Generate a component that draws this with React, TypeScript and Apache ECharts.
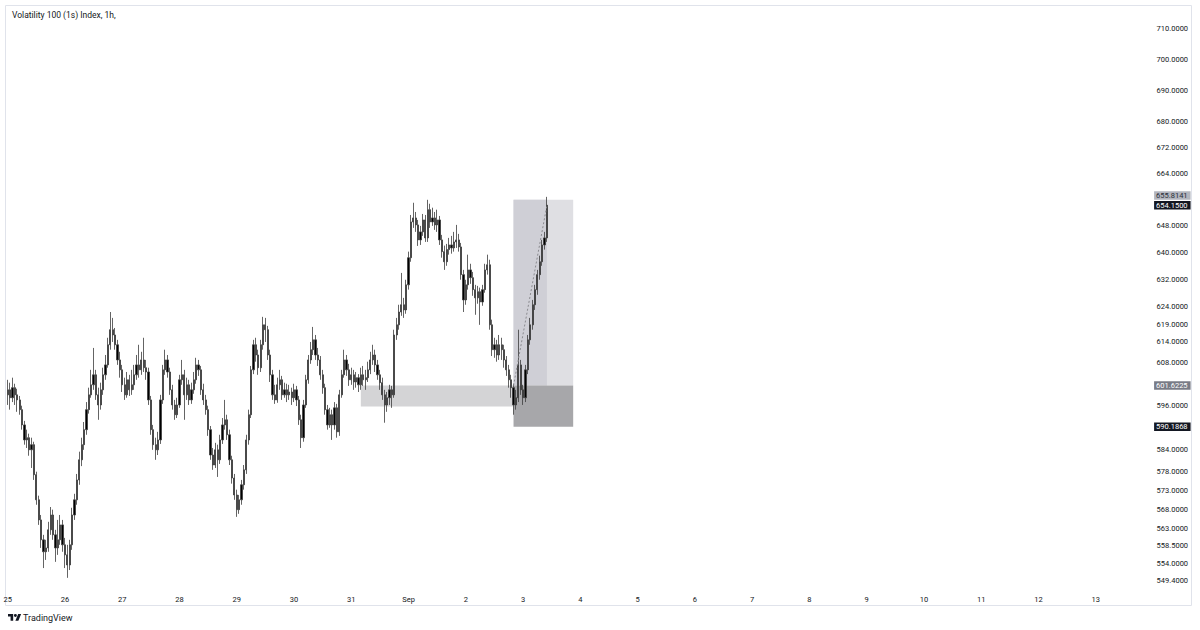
import React, { useEffect, useRef } from "react";
import * as echarts from "echarts";

// ---- axis categories (hourly candles) ----
const DAY_LABELS = ["25", "26", "27", "28", "29", "30", "31", "Sep", "2", "3", "4", "5", "6", "7", "8", "9", "10", "11", "12", "13"];
const HOURS_PER_DAY = 24;

// ---- OHLC values (1h) ----
const OPEN = [
  599.0, 600.4, 598.2, 601.0, 599.0, 597.6, 594.9, 590.7, 586.6, 587.2,
  583.9, 585.3, 577.2, 570.5, 565.2, 560.0, 556.9, 557.9, 562.6, 566.5,
  561.3, 557.9, 560.0, 563.9, 558.7, 556.1, 553.5, 558.7, 566.5, 570.5,
  575.8, 581.2, 585.3, 589.4, 594.9, 599.0, 601.8, 604.6, 599.0, 596.2,
  600.4, 604.6, 607.4, 613.1, 617.4, 615.9, 613.1, 608.8, 606.0, 601.8,
  599.0, 603.2, 600.4, 601.8, 604.6, 607.4, 606.0, 608.8, 606.6, 605.4,
  597.6, 589.4, 585.3, 583.9, 586.6, 597.6, 606.0, 608.8, 605.4, 600.4,
  596.2, 593.5, 596.2, 603.2, 604.6, 599.0, 601.8, 597.6, 600.4, 603.2,
  607.4, 606.0, 600.4, 597.6, 594.9, 589.4, 582.5, 579.8, 583.9, 581.2,
  586.6, 590.7, 592.1, 588.0, 581.2, 576.3, 571.8, 567.9, 570.5, 574.5,
  578.5, 586.6, 593.5, 606.0, 613.1, 610.2, 606.6, 613.1, 618.8, 617.4,
  610.2, 604.6, 599.0, 597.6, 601.8, 603.2, 599.0, 600.4, 599.0, 599.8,
  598.2, 600.4, 597.6, 592.1, 587.2, 596.2, 603.2, 608.8, 611.7, 614.5,
  610.2, 608.8, 604.6, 601.0, 594.9, 590.7, 593.5, 590.7, 595.4, 588.8,
  599.0, 604.6, 608.8, 606.0, 603.2, 604.6, 602.6, 603.8, 601.8, 604.6,
  603.2, 603.8, 606.0, 608.8, 610.2, 607.4, 604.6, 602.4, 599.0, 596.2,
  598.2, 600.4, 599.0, 615.9, 618.8, 622.5, 624.6, 623.1, 630.4, 638.4,
  649.1, 650.3, 648.2, 643.7, 646.1, 649.7, 644.3, 652.8, 649.1, 650.3,
  648.2, 649.7, 643.7, 640.2, 637.2, 640.8, 642.2, 641.3, 643.1, 643.7,
  641.6, 633.4, 626.0, 630.4, 634.8, 632.5, 629.0, 626.6, 628.4, 625.4,
  629.0, 634.8, 636.3, 618.8, 611.7, 613.1, 610.2, 613.1, 611.7, 608.8,
  606.0, 603.2, 601.0, 596.2, 598.2, 607.4, 600.4, 598.2, 606.0, 614.5,
  618.8, 624.6, 629.0, 633.4, 637.2, 642.2, 644.3,
];
const CLOSE = [
  600.4, 598.2, 601.0, 599.0, 597.6, 594.9, 590.7, 586.6, 587.2, 583.9,
  585.3, 577.2, 570.5, 565.2, 560.0, 556.9, 557.9, 562.6, 566.5, 561.3,
  557.9, 560.0, 563.9, 558.7, 556.1, 553.5, 558.7, 566.5, 570.5, 575.8,
  581.2, 585.3, 589.4, 594.9, 599.0, 601.8, 604.6, 599.0, 596.2, 600.4,
  604.6, 607.4, 613.1, 617.4, 615.9, 613.1, 608.8, 606.0, 601.8, 599.0,
  603.2, 600.4, 601.8, 604.6, 607.4, 606.0, 608.8, 606.6, 605.4, 597.6,
  589.4, 585.3, 583.9, 586.6, 597.6, 606.0, 608.8, 605.4, 600.4, 596.2,
  593.5, 596.2, 603.2, 604.6, 599.0, 601.8, 597.6, 600.4, 603.2, 607.4,
  606.0, 600.4, 597.6, 594.9, 589.4, 582.5, 579.8, 583.9, 581.2, 586.6,
  590.7, 592.1, 588.0, 581.2, 576.3, 571.8, 567.9, 570.5, 574.5, 578.5,
  586.6, 593.5, 606.0, 613.1, 610.2, 606.6, 613.1, 618.8, 617.4, 610.2,
  604.6, 599.0, 597.6, 601.8, 603.2, 599.0, 600.4, 599.0, 599.8, 598.2,
  600.4, 597.6, 592.1, 587.2, 596.2, 603.2, 608.8, 611.7, 614.5, 610.2,
  608.8, 604.6, 601.0, 594.9, 590.7, 593.5, 590.7, 595.4, 588.8, 599.0,
  604.6, 608.8, 606.0, 603.2, 604.6, 602.6, 603.8, 601.8, 604.6, 603.2,
  603.8, 606.0, 608.8, 610.2, 607.4, 604.6, 602.4, 599.0, 596.2, 598.2,
  600.4, 599.0, 615.9, 618.8, 622.5, 624.6, 623.1, 630.4, 638.4, 649.1,
  650.3, 648.2, 643.7, 646.1, 649.7, 644.3, 652.8, 649.1, 650.3, 648.2,
  649.7, 643.7, 640.2, 637.2, 640.8, 642.2, 641.3, 643.1, 643.7, 641.6,
  633.4, 626.0, 630.4, 634.8, 632.5, 629.0, 626.6, 628.4, 625.4, 629.0,
  634.8, 636.3, 618.8, 611.7, 613.1, 610.2, 613.1, 611.7, 608.8, 606.0,
  603.2, 601.0, 596.2, 598.2, 607.4, 600.4, 598.2, 606.0, 614.5, 618.8,
  624.6, 629.0, 633.4, 637.2, 642.2, 644.3, 654.15,
];
const LOW = [
  596.2, 594.9, 597.0, 596.2, 594.3, 593.5, 589.4, 585.3, 584.4, 582.3,
  579.0, 575.8, 569.2, 563.9, 557.9, 552.7, 554.8, 556.9, 561.3, 560.0,
  554.3, 556.1, 558.7, 556.9, 552.7, 550.2, 552.2, 557.4, 565.2, 569.2,
  574.5, 579.5, 583.9, 588.0, 593.8, 598.2, 600.4, 597.6, 592.1, 594.9,
  599.0, 603.2, 606.6, 611.7, 613.9, 611.7, 607.4, 603.8, 599.8, 597.6,
  598.2, 598.7, 599.0, 600.4, 603.2, 603.8, 604.6, 605.4, 603.2, 596.2,
  588.0, 583.9, 581.2, 582.5, 585.5, 596.5, 604.6, 603.8, 599.0, 594.9,
  592.1, 592.6, 595.4, 601.8, 592.1, 597.6, 596.2, 596.5, 599.3, 602.1,
  604.3, 599.0, 596.2, 593.5, 587.7, 581.2, 578.5, 579.0, 576.6, 580.1,
  585.5, 589.4, 586.6, 579.8, 574.8, 570.5, 566.0, 566.8, 569.2, 573.2,
  577.4, 585.3, 592.6, 604.8, 608.3, 604.6, 605.4, 611.7, 613.9, 608.8,
  602.6, 597.6, 596.5, 596.8, 600.4, 597.6, 598.2, 597.0, 597.6, 596.2,
  597.0, 595.9, 590.7, 584.4, 586.1, 595.4, 602.1, 607.7, 610.2, 608.8,
  607.1, 603.2, 599.3, 593.5, 589.4, 589.9, 586.6, 589.4, 587.2, 587.7,
  598.2, 603.8, 604.3, 601.5, 601.8, 600.4, 601.0, 599.8, 600.4, 601.5,
  600.4, 602.6, 604.8, 607.4, 605.4, 603.2, 600.4, 597.6, 591.3, 594.3,
  596.2, 595.4, 598.2, 614.5, 617.4, 621.4, 620.8, 622.0, 629.0, 637.2,
  647.3, 646.1, 641.9, 642.2, 644.9, 643.1, 643.1, 647.3, 647.9, 646.7,
  646.1, 642.2, 638.4, 634.8, 636.0, 639.3, 639.6, 640.2, 641.3, 640.2,
  631.9, 622.5, 624.6, 629.0, 630.7, 627.2, 621.7, 624.9, 618.8, 624.3,
  628.1, 633.4, 617.4, 609.9, 609.4, 608.3, 608.8, 608.8, 606.6, 604.3,
  601.0, 598.2, 593.5, 594.9, 597.0, 599.0, 596.2, 597.0, 604.8, 613.1,
  617.4, 623.1, 627.5, 631.9, 636.0, 640.8, 643.1,
];
const HIGH = [
  603.2, 602.4, 603.8, 602.1, 600.7, 598.7, 596.0, 591.8, 589.4, 588.3,
  587.2, 586.1, 578.0, 571.6, 566.5, 561.3, 560.0, 564.7, 568.6, 567.9,
  562.6, 565.2, 566.5, 565.2, 560.5, 558.7, 560.0, 568.4, 572.1, 577.4,
  583.4, 587.2, 591.5, 597.0, 601.0, 606.0, 612.2, 606.0, 601.0, 602.4,
  606.6, 610.2, 615.1, 622.5, 620.8, 617.9, 614.5, 611.1, 607.4, 603.8,
  605.4, 604.6, 606.0, 607.4, 610.2, 613.1, 611.1, 615.1, 608.8, 606.6,
  598.7, 590.7, 587.2, 588.8, 599.0, 607.4, 611.7, 610.2, 606.6, 601.8,
  597.6, 598.2, 604.6, 608.8, 606.0, 603.8, 603.2, 602.4, 605.4, 609.4,
  608.8, 607.1, 602.1, 599.0, 596.0, 590.4, 584.4, 585.8, 585.3, 588.0,
  592.6, 597.6, 593.5, 589.4, 582.3, 577.4, 573.2, 571.8, 575.8, 579.8,
  588.0, 594.9, 607.1, 614.5, 615.1, 611.7, 614.5, 621.1, 620.8, 618.5,
  611.7, 606.0, 601.8, 603.8, 606.0, 604.3, 602.4, 602.1, 601.8, 601.0,
  602.1, 601.5, 598.7, 593.5, 597.6, 604.6, 610.2, 613.9, 618.2, 615.9,
  612.2, 609.9, 606.0, 602.1, 596.2, 595.4, 594.9, 597.0, 596.5, 600.4,
  606.0, 611.7, 610.2, 607.7, 606.6, 606.0, 605.4, 604.8, 606.6, 607.1,
  606.0, 608.3, 611.1, 613.1, 611.7, 608.8, 606.0, 603.8, 600.4, 599.8,
  601.8, 601.5, 617.4, 620.8, 624.6, 633.9, 626.6, 631.9, 640.2, 651.2,
  654.9, 652.1, 649.7, 647.9, 651.5, 651.2, 655.8, 654.6, 653.4, 652.1,
  652.8, 650.9, 645.2, 642.0, 642.5, 644.3, 644.9, 646.1, 648.2, 645.5,
  642.8, 634.8, 631.9, 639.3, 636.6, 634.2, 630.4, 630.1, 629.6, 630.4,
  636.6, 639.3, 637.8, 620.3, 615.1, 614.5, 615.9, 615.1, 613.1, 609.9,
  607.4, 604.6, 602.1, 600.4, 617.4, 608.8, 601.8, 607.4, 615.9, 620.8,
  626.0, 630.4, 634.8, 639.0, 643.7, 646.1, 656.7,
];

// ---- price scale tick labels ----
const PRICE_TICKS = [710, 700, 690, 680, 672, 664, 648, 640, 632, 624, 619, 614, 608, 596, 584, 578, 573, 568, 563, 558.5, 554, 549.4];

// ---- drawing tool levels ----
const TARGET_PRICE = 655.8141;
const LAST_PRICE = 654.15;
const ENTRY_PRICE = 601.6225;
const STOP_PRICE = 590.1868;
const ZONE_TOP = 601.6;
const ZONE_BOTTOM = 595.8;
const ZONE_START = 148;
const POS_START = 212;
const POS_LAST = 226;
const POS_END = 237;

const CATEGORIES: string[] = [];
DAY_LABELS.forEach((d) => {
  for (let h = 0; h < HOURS_PER_DAY; h++) CATEGORIES.push(`${d} ${String(h).padStart(2, "0")}:00`);
});

const OHLC = OPEN.map((o, i) => [o, CLOSE[i], LOW[i], HIGH[i]]);

const FONT = "Roboto, 'Noto Sans', sans-serif";

echarts.graphic.registerShape(
  "tvlogo",
  echarts.graphic.extendPath("M0 4h14v18H7V11H0z M20 4a4 4 0 1 1 0 8a4 4 0 1 1 0-8z M27.5 4h8L28 22h-8z", {})
);

function priceLabel(value: number, bg: string, fg: string, vAlign: string) {
  return {
    yAxis: value,
    lineStyle: { color: "rgba(0,0,0,0)", width: 0 },
    label: {
      show: true,
      position: "end",
      distance: 3.5,
      formatter: value.toFixed(4),
      backgroundColor: bg,
      color: fg,
      padding: [0, 3, 0, 2],
      lineHeight: 8.5,
      fontSize: 7.5,
      fontFamily: FONT,
      verticalAlign: vAlign,
    },
  };
}

export default function App() {
  const ref = useRef<HTMLDivElement>(null);
  useEffect(() => {
    if (!ref.current) return;
    const chart = echarts.init(ref.current, undefined, { renderer: "svg" });
    chart.setOption({
      animation: false,
      backgroundColor: "#ffffff",
      textStyle: { fontFamily: FONT },
      grid: { left: 7.7, right: 49.4, top: 8, bottom: 40, containLabel: false, outerBoundsMode: "none" },
      xAxis: {
        type: "category",
        data: CATEGORIES,
        boundaryGap: false,
        axisLine: { show: false },
        axisTick: { show: false },
        splitLine: { show: false },
        axisLabel: {
          interval: (i: number) => i % HOURS_PER_DAY === 0,
          formatter: (_v: string, i: number) => DAY_LABELS[Math.floor(i / HOURS_PER_DAY)],
          fontSize: 7.5,
          color: "#131722",
          margin: 5,
          fontFamily: FONT,
        },
      },
      yAxis: {
        type: "log",
        logBase: 10,
        min: 547.1,
        max: 716.9,
        position: "right",
        axisLine: { show: false },
        axisTick: { show: false },
        splitLine: { show: false },
        axisLabel: {
          customValues: PRICE_TICKS,
          formatter: (v: number) => Number(v).toFixed(4),
          fontSize: 7.5,
          color: "#131722",
          margin: 6,
          fontFamily: FONT,
        },
      },
      series: [
        {
          type: "candlestick",
          data: OHLC,
          barWidth: 1.7,
          itemStyle: {
            color: "#000000",
            color0: "#000000",
            borderColor: "#3c3c3c",
            borderColor0: "#3c3c3c",
            borderWidth: 0.8,
          },
          markArea: {
            silent: true,
            data: [
              [
                { xAxis: ZONE_START, yAxis: ZONE_TOP, itemStyle: { color: "#d4d4d6" } },
                { xAxis: POS_START, yAxis: ZONE_BOTTOM },
              ],
              [
                { xAxis: POS_START, yAxis: TARGET_PRICE, itemStyle: { color: "#dfdfe3" } },
                { xAxis: POS_END, yAxis: ENTRY_PRICE },
              ],
              [
                { xAxis: POS_START, yAxis: TARGET_PRICE, itemStyle: { color: "#cfcfd6" } },
                { xAxis: POS_LAST, yAxis: ENTRY_PRICE },
              ],
              [
                { xAxis: POS_START, yAxis: ENTRY_PRICE, itemStyle: { color: "#a7a7aa" } },
                { xAxis: POS_END, yAxis: STOP_PRICE },
              ],
            ],
          },
          markLine: {
            silent: true,
            symbol: ["none", "none"],
            data: [
              [
                { coord: [POS_START, ENTRY_PRICE], lineStyle: { type: [2, 2], color: "#8a8a8f", width: 1 }, label: { show: false } },
                { coord: [POS_LAST, LAST_PRICE] },
              ],
              priceLabel(TARGET_PRICE, "#b2b5be", "#2a2e39", "bottom"),
              priceLabel(LAST_PRICE, "#131722", "#ffffff", "middle"),
              priceLabel(ENTRY_PRICE, "#787b86", "#ffffff", "middle"),
              priceLabel(STOP_PRICE, "#131722", "#ffffff", "middle"),
            ],
          },
        },
      ],
      graphic: [
        {
          type: "rect",
          silent: true,
          z: -10,
          shape: { x: 5.5, y: 5.5, width: 1186, height: 600 },
          style: { fill: "none", stroke: "#e0e3eb", lineWidth: 1 },
        },
        {
          type: "text",
          x: 12,
          y: 15,
          style: { text: "Volatility 100 (1s) Index, 1h,", fontSize: 8.5, fontFamily: FONT, fill: "#131722", verticalAlign: "middle" },
        },
        {
          type: "tvlogo",
          x: 8,
          y: 612.5,
          scaleX: 0.37,
          scaleY: 0.37,
          style: { fill: "#131722" },
        },
        {
          type: "text",
          x: 23,
          y: 618,
          style: { text: "TradingView", fontSize: 9, fontFamily: FONT, fill: "#131722", verticalAlign: "middle" },
        },
      ],
    });
    return () => chart.dispose();
  }, []);
  return <div ref={ref} style={{ position: "absolute", left: 0, top: 0, width: 1200, height: 630 }} />;
}
